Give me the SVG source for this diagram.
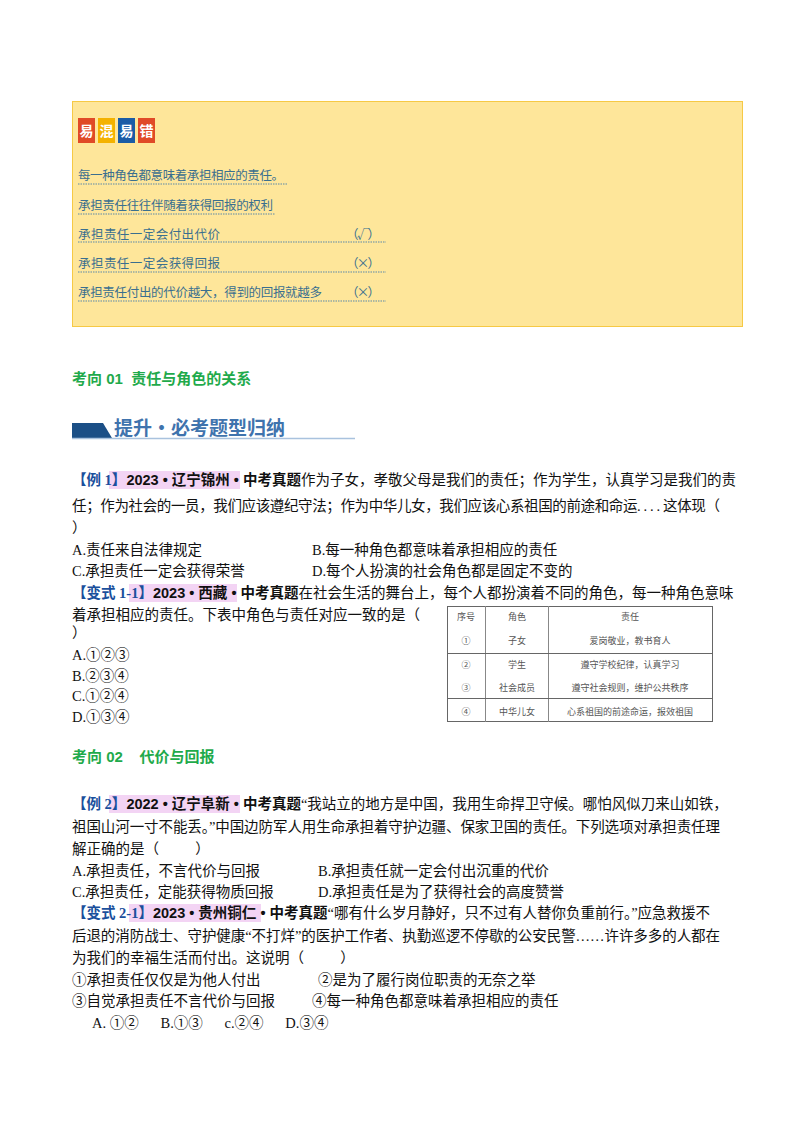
<svg xmlns="http://www.w3.org/2000/svg" width="800" height="1132" viewBox="0 0 800 1132">
<style>
text{font-family:"Liberation Serif","Noto Sans CJK SC",serif;font-size:14.5px;fill:#111;white-space:pre}
.h{font-family:"Noto Sans CJK SC",sans-serif;font-size:12.5px;fill:#3a6f8f}
.ul{stroke:#5b88a8;stroke-width:1;stroke-dasharray:1.5 1}
.b{font-family:"Liberation Sans","Noto Sans CJK SC",sans-serif;font-weight:bold}
.lab{fill:#1a4f9c;font-weight:bold}
.pk{fill:#f3d4f4}
.g{font-family:"Liberation Sans","Noto Sans CJK SC",sans-serif;font-weight:bold;fill:#1faa4b;font-size:15px}
.t{font-family:"Noto Sans CJK SC",sans-serif;font-size:9px;fill:#555;text-anchor:middle}
.badge{font-family:"Noto Sans CJK SC",sans-serif;font-weight:bold;font-size:14px;fill:#fff;text-anchor:middle}
</style>
<rect width="800" height="1132" fill="#fff"/>
<g id="box">
<rect x="72.5" y="101.5" width="670" height="225" fill="#fee69a" stroke="#f6c945"/>
<rect x="78" y="118" width="17" height="25" fill="#e04a27"/><text class="badge" x="86.5" y="136">易</text>
<rect x="98" y="118" width="17" height="25" fill="#f4b200"/><text class="badge" x="106.5" y="136">混</text>
<rect x="118" y="118" width="17" height="25" fill="#1a5ca6"/><text class="badge" x="126.5" y="136">易</text>
<rect x="138" y="118" width="17" height="25" fill="#e04a27"/><text class="badge" x="146.5" y="136">错</text>
<text class="h" x="78" y="180" textLength="206" lengthAdjust="spacing">每一种角色都意味着承担相应的责任。</text>
<line class="ul" x1="78" y1="184" x2="287" y2="184"/>
<text class="h" x="78" y="210" textLength="195" lengthAdjust="spacing">承担责任往往伴随着获得回报的权利</text>
<line class="ul" x1="78" y1="214" x2="275" y2="214"/>
<text class="h" x="78" y="239" textLength="142" lengthAdjust="spacing">承担责任一定会付出代价</text>
<text class="h" x="346" y="239" textLength="34" lengthAdjust="spacing">（√）</text>
<line class="ul" x1="78" y1="242" x2="386" y2="242"/>
<text class="h" x="78" y="268" textLength="142" lengthAdjust="spacing">承担责任一定会获得回报</text>
<text class="h" x="346" y="268" textLength="34" lengthAdjust="spacing">（×）</text>
<line class="ul" x1="78" y1="272" x2="386" y2="272"/>
<text class="h" x="78" y="297" textLength="244" lengthAdjust="spacing">承担责任付出的代价越大，得到的回报就越多</text>
<text class="h" x="346" y="297" textLength="34" lengthAdjust="spacing">（×）</text>
<line class="ul" x1="78" y1="301" x2="386" y2="301"/>
</g>
<g id="sec1">
<text class="g" x="72" y="384" xml:space="preserve">考向 01  责任与角色的关系</text>
<polygon points="72,423 103,423 112,438 72,438" fill="#1b4f86"/>
<line x1="72" y1="438.5" x2="355" y2="438.5" stroke="#a9c2de" stroke-width="1.5"/>
<text x="114" y="435" style="font-family:'Noto Sans CJK SC',serif;font-weight:bold;font-size:19px;fill:#3f73ad">提升·必考题型归纳</text>
</g>
<g id="q1">
<rect class="pk" x="109" y="471" width="131" height="18"/>
<text x="72" y="485"><tspan class="lab">【例 1】</tspan><tspan class="b">2023 • 辽宁锦州 • 中考真题</tspan>作为子女，孝敬父母是我们的责任；作为学生，认真学习是我们的责</text>
<text x="72" y="511" textLength="648" lengthAdjust="spacing">任；作为社会的一员，我们应该遵纪守法；作为中华儿女，我们应该心系祖国的前途和命运. . . . 这体现（</text>
<text x="72" y="533">）</text>
<text x="72" y="555">A.责任来自法律规定</text>
<text x="312" y="555">B.每一种角色都意味着承担相应的责任</text>
<text x="72" y="576">C.承担责任一定会获得荣誉</text>
<text x="312" y="576">D.每个人扮演的社会角色都是固定不变的</text>
<rect class="pk" x="129" y="584" width="108" height="18"/>
<text x="72" y="598"><tspan class="lab">【变式 1-1】</tspan><tspan class="b">2023 • 西藏 • 中考真题</tspan>在社会生活的舞台上，每个人都扮演着不同的角色，每一种角色意味</text>
<text x="72" y="620">着承担相应的责任。下表中角色与责任对应一致的是（</text>
<text x="72" y="638">）</text>
<text x="72" y="660">A.①②③</text>
<text x="72" y="681">B.②③④</text>
<text x="72" y="701">C.①②④</text>
<text x="72" y="722">D.①③④</text>
</g>
<g id="table">
<rect x="447.5" y="606.5" width="265" height="115" fill="#fff" stroke="#666"/>
<line x1="485.5" y1="606" x2="485.5" y2="722" stroke="#888"/>
<line x1="548.5" y1="606" x2="548.5" y2="722" stroke="#888"/>
<line x1="447" y1="653.5" x2="713" y2="653.5" stroke="#666"/>
<line x1="447" y1="698.5" x2="713" y2="698.5" stroke="#666"/>
<text class="t" x="466" y="620">序号</text><text class="t" x="517" y="620">角色</text><text class="t" x="630" y="620">责任</text>
<text class="t" x="466" y="644">①</text><text class="t" x="517" y="644">子女</text><text class="t" x="630" y="644">爱岗敬业，教书育人</text>
<text class="t" x="466" y="668">②</text><text class="t" x="517" y="668">学生</text><text class="t" x="630" y="668">遵守学校纪律，认真学习</text>
<text class="t" x="466" y="691">③</text><text class="t" x="517" y="691">社会成员</text><text class="t" x="630" y="691">遵守社会规则，维护公共秩序</text>
<text class="t" x="466" y="715">④</text><text class="t" x="517" y="715">中华儿女</text><text class="t" x="630" y="715">心系祖国的前途命运，报效祖国</text>
</g>
<g id="sec2">
<text class="g" x="72" y="762" xml:space="preserve">考向 02    代价与回报</text>
</g>
<g id="q2">
<rect class="pk" x="109" y="795" width="131" height="18"/>
<text x="72" y="809"><tspan class="lab">【例 2】</tspan><tspan class="b">2022 • 辽宁阜新 • 中考真题</tspan>“我站立的地方是中国，我用生命捍卫守候。哪怕风似刀来山如铁，</text>
<text x="72" y="832" textLength="648" lengthAdjust="spacing">祖国山河一寸不能丢。”中国边防军人用生命承担着守护边疆、保家卫国的责任。下列选项对承担责任理</text>
<text x="72" y="854" xml:space="preserve">解正确的是（          ）</text>
<text x="72" y="876">A.承担责任，不言代价与回报</text>
<text x="318" y="876">B.承担责任就一定会付出沉重的代价</text>
<text x="72" y="897">C.承担责任，定能获得物质回报</text>
<text x="318" y="897">D.承担责任是为了获得社会的高度赞誉</text>
<rect class="pk" x="129" y="904" width="132" height="18"/>
<text x="72" y="918"><tspan class="lab">【变式 2-1】</tspan><tspan class="b">2023 • 贵州铜仁 • 中考真题</tspan>“哪有什么岁月静好，只不过有人替你负重前行。”应急救援不</text>
<text x="72" y="941" textLength="648" lengthAdjust="spacing">后退的消防战士、守护健康“不打烊”的医护工作者、执勤巡逻不停歇的公安民警……许许多多的人都在</text>
<text x="72" y="963" xml:space="preserve">为我们的幸福生活而付出。这说明（          ）</text>
<text x="72" y="985">①承担责任仅仅是为他人付出</text>
<text x="318" y="985">②是为了履行岗位职责的无奈之举</text>
<text x="72" y="1006">③自觉承担责任不言代价与回报</text>
<text x="312" y="1006">④每一种角色都意味着承担相应的责任</text>
<text x="92" y="1028" xml:space="preserve">A. ①②      B.①③      c.②④      D.③④</text>
</g>
</svg>
